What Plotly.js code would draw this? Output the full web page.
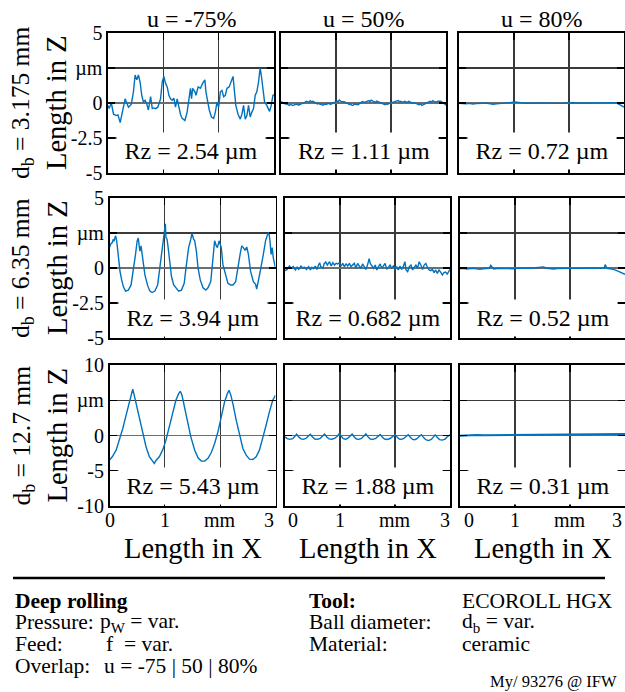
<!DOCTYPE html>
<html><head><meta charset="utf-8">
<script src="https://cdn.plot.ly/plotly-3.0.1.min.js"></script>
<style>html,body{margin:0;padding:0;background:#fff}#chart{width:625px;height:692px}</style>
</head><body><div id="chart"></div>
<script>
// ---------- data ----------
const columnTitles = ['u = -75%', 'u = 50%', 'u = 80%'];
const rowLabels = ['d<sub>b</sub> = 3.175 mm', 'd<sub>b</sub> = 6.35 mm', 'd<sub>b</sub> = 12.7 mm'];
const rzLabels = [
  ['Rz = 2.54 µm', 'Rz = 1.11 µm', 'Rz = 0.72 µm'],
  ['Rz = 3.94 µm', 'Rz = 0.682 µm', 'Rz = 0.52 µm'],
  ['Rz = 5.43 µm', 'Rz = 1.88 µm', 'Rz = 0.31 µm']
];
const xTickVals = [0, 1, 2, 3];
const xTickText = ['0', '1', 'mm', '3'];
const yTickValsSmall = [-5, -2.5, 0, 2.5, 5];
const yTickTextSmall = ['-5', '-2.5', '0', 'µm', '5'];
const yTickValsLarge = [-10, -5, 0, 5, 10];
const yTickTextLarge = ['-10', '-5', '0', 'µm', '10'];

// row 1 (d_b = 3.175 mm)
const x_r1c1 = [0,0.02,0.06,0.10,0.15,0.18,0.22,0.25,0.28,0.31,0.34,0.37,0.42,0.46,0.49,0.52,0.55,0.58,0.61,0.64,0.67,0.70,0.73,0.77,0.80,0.83,0.86,0.90,0.95,0.98,1.01,1.04,1.07,1.10,1.13,1.16,1.19,1.22,1.25,1.28,1.31,1.34,1.39,1.43,1.46,1.49,1.51,1.53,1.57,1.59,1.63,1.67,1.71,1.75,1.77,1.81,1.83,1.87,1.91,1.94,1.97,2.00,2.03,2.06,2.09,2.12,2.15,2.19,2.23,2.26,2.28,2.31,2.35,2.39,2.42,2.45,2.48,2.51,2.54,2.57,2.60,2.63,2.66,2.69,2.72,2.75,2.77,2.80,2.83,2.87,2.92,2.95,2.98,3.00];
const z_r1c1 = [-0.17,-0.4,0,-0.8,-0.9,-0.85,-1.4,-0.8,-0.4,0.3,0,-0.3,-0.1,0.8,2.0,1.65,2.0,1.5,0.55,0.07,0.2,-0.05,-0.5,0.45,-0.4,-0.35,-0.4,-0.3,0.3,1.5,1.9,1.4,1.15,0.55,0.3,0.2,0.35,-0.3,0.3,-0.4,-0.8,-1.1,-1.25,-0.65,0.3,1.05,0.3,1.05,0.8,0.55,1.15,1.05,1.4,1.65,0.8,-0.3,-0.5,-1.0,-1.1,-0.65,0.07,-0.3,0.8,0.9,0.45,0.55,1.05,1.15,1.65,1.9,1.05,-0.17,-0.8,-1.15,-0.8,-0.17,-1.15,-0.9,-0.17,-1.0,-0.65,-0.4,0.55,0.8,1.5,2.5,2.0,1.05,0.07,-0.17,-0.6,-0.17,0.55,0.6];
const x_r1c2 = [0,0.03,0.05,0.08,0.10,0.13,0.15,0.17,0.19,0.22,0.24,0.27,0.29,0.32,0.34,0.37,0.39,0.42,0.44,0.46,0.48,0.51,0.53,0.56,0.58,0.61,0.63,0.66,0.68,0.71,0.73,0.75,0.77,0.80,0.82,0.85,0.87,0.90,0.92,0.95,0.97,1.00,1.02,1.04,1.06,1.09,1.11,1.14,1.16,1.19,1.21,1.24,1.26,1.29,1.31,1.33,1.35,1.38,1.40,1.43,1.45,1.48,1.50,1.53,1.55,1.58,1.60,1.62,1.64,1.67,1.69,1.72,1.74,1.77,1.79,1.82,1.84,1.87,1.89,1.91,1.93,1.96,1.98,2.01,2.03,2.06,2.08,2.11,2.13,2.16,2.18,2.20,2.22,2.25,2.27,2.30,2.32,2.35,2.37,2.40,2.42,2.45,2.47,2.49,2.51,2.54,2.56,2.59,2.61,2.64,2.66,2.69,2.71,2.74,2.76,2.78,2.80,2.83,2.85,2.88,2.90,2.93,2.95,2.98,3.00];
const z_r1c2 = [0.10,0.02,-0.02,-0.08,-0.07,-0.12,-0.17,-0.09,-0.12,-0.18,-0.14,-0.06,-0.07,-0.15,-0.12,-0.04,-0.02,0.04,0.07,0.13,0.10,0.05,0.17,0.09,0.12,0.05,0.02,-0.06,-0.02,-0.09,-0.07,-0.15,-0.14,-0.06,-0.10,-0.03,-0.02,-0.10,-0.07,0.04,0.02,0.09,0.14,0.08,0.21,0.12,0.10,0.04,0.07,-0.02,0,-0.11,-0.07,-0.17,-0.17,-0.08,-0.10,-0.15,-0.12,-0.03,0.02,0.10,0.07,0.03,0.10,0.17,0.17,0.10,0.21,0.14,0.12,0.05,0.14,0.09,0.05,-0.01,-0.05,-0.12,-0.12,-0.06,-0.10,-0.04,-0.02,0.05,0.02,0.10,0.07,0.13,0.17,0.08,0.12,0.05,0.10,0.13,0.07,0.04,0.12,0.08,0.07,-0.01,0.02,-0.04,-0.07,-0.13,-0.12,-0.08,-0.17,-0.11,-0.07,0.03,0.07,0.12,0.12,0.08,0.17,0.12,0.10,0.06,0.12,0.15,0.12,0.07,0.02,-0.08,-0.17];
const x_r1c3 = [0,0.06,0.13,0.19,0.25,0.31,0.37,0.43,0.49,0.56,0.62,0.68,0.74,0.80,0.86,0.93,1.01,1.05,1.10,1.16,1.22,1.28,1.34,1.40,1.46,1.52,1.58,1.64,1.70,1.76,1.82,1.88,1.94,2.00,2.06,2.12,2.18,2.25,2.31,2.37,2.43,2.49,2.55,2.61,2.67,2.73,2.79,2.84,2.88,2.91,2.94,2.97,3.00];
const z_r1c3 = [-0.02,-0.05,-0.05,-0.03,-0.07,-0.04,-0.05,-0.02,0,-0.03,-0.10,-0.06,-0.05,-0.02,0,0.03,0.07,0.04,0.05,0.01,-0.02,-0.04,-0.02,0.01,0,-0.02,0.02,-0.01,-0.02,-0.05,-0.07,-0.03,0,0.02,0.02,0,0,-0.03,-0.05,-0.02,0,0.01,0.02,0.03,0.05,0.04,0.07,0.03,-0.02,-0.08,-0.17,-0.23,-0.29];

// row 2 (d_b = 6.35 mm)
const x_r2c1 = [0,0.02,0.05,0.07,0.08,0.11,0.13,0.16,0.19,0.22,0.25,0.29,0.34,0.39,0.43,0.47,0.50,0.52,0.54,0.55,0.57,0.59,0.64,0.69,0.73,0.77,0.82,0.87,0.91,0.95,0.98,1.00,1.01,1.02,1.04,1.06,1.09,1.12,1.16,1.21,1.25,1.30,1.35,1.39,1.43,1.47,1.49,1.52,1.54,1.57,1.60,1.64,1.69,1.74,1.78,1.83,1.87,1.90,1.93,1.95,1.98,2.00,2.02,2.05,2.10,2.14,2.19,2.23,2.28,2.31,2.36,2.39,2.42,2.45,2.48,2.51,2.55,2.60,2.64,2.66,2.69,2.73,2.78,2.82,2.86,2.88,2.90,2.92,2.94,2.96,3.00];
const z_r2c1 = [1.46,1.7,1.82,2.06,1.9,2.3,1.94,0.73,-0.24,-0.85,-1.33,-1.65,-1.58,-1.21,-0.24,0.97,1.94,2.14,1.46,1.21,1.58,0.97,-0.49,-1.26,-1.65,-1.75,-1.65,-1.21,0,1.21,1.94,2.67,3.15,2.18,2.06,1.46,0.24,-0.61,-1.21,-1.5,-1.65,-1.58,-1.09,0.24,1.46,2.06,2.48,2.06,1.94,1.21,0,-0.85,-1.41,-1.58,-1.41,-0.97,0.73,1.94,1.58,1.46,1.94,1.58,1.46,0.24,-0.61,-1.09,-1.21,-1.21,-0.97,-0.12,0.97,1.58,1.46,1.26,1.5,0.97,-0.24,-0.97,-1.17,-1.5,-0.97,-0.12,0.97,1.94,2.43,2.55,1.94,0.97,1.46,0.73,0];
const x_r2c2 = [0,0.04,0.08,0.11,0.15,0.19,0.22,0.25,0.29,0.33,0.35,0.39,0.43,0.46,0.49,0.52,0.55,0.58,0.61,0.63,0.65,0.69,0.71,0.74,0.77,0.81,0.84,0.87,0.90,0.93,0.96,0.99,1.02,1.05,1.08,1.11,1.14,1.17,1.20,1.23,1.26,1.29,1.32,1.35,1.38,1.41,1.44,1.47,1.50,1.53,1.55,1.58,1.61,1.64,1.67,1.70,1.73,1.76,1.79,1.82,1.85,1.88,1.91,1.94,1.97,2.00,2.03,2.06,2.09,2.12,2.15,2.18,2.20,2.23,2.26,2.29,2.32,2.35,2.38,2.41,2.44,2.47,2.50,2.53,2.56,2.59,2.62,2.65,2.68,2.71,2.74,2.77,2.80,2.83,2.86,2.89,2.92,2.95,3.00];
const z_r2c2 = [-0.19,-0.10,0.14,-0.02,0.10,-0.14,0.05,-0.10,0.14,-0.02,0.05,-0.10,0.10,-0.14,0.05,-0.05,0.14,-0.10,0.21,0.38,0.10,-0.02,0.29,0.43,0.21,0.45,0.14,0.38,0.21,0.33,0.29,0.38,0.14,0.33,0.10,0.29,0.14,0.33,0.10,0.24,0.33,-0.02,0.33,0.14,-0.02,0.29,0.10,-0.10,0.21,0.67,0.33,0.10,-0.02,0.21,-0.14,0.10,0.29,-0.02,0.14,0.33,-0.10,0.10,0.21,-0.02,0.14,-0.10,0.10,-0.14,0.14,-0.10,0.10,0.45,-0.14,-0.26,0.10,0.21,-0.14,0.05,0.21,-0.02,0.45,0.21,-0.10,0.21,0.33,0.05,-0.14,-0.19,-0.10,-0.33,-0.14,-0.38,-0.14,-0.29,-0.50,-0.33,-0.29,-0.43,-0.10];
const x_r2c3 = [0,0.06,0.12,0.18,0.24,0.30,0.36,0.42,0.48,0.53,0.56,0.61,0.67,0.73,0.79,0.85,0.91,0.97,1.03,1.09,1.15,1.21,1.27,1.33,1.39,1.45,1.52,1.58,1.64,1.70,1.76,1.82,1.88,1.94,2.00,2.06,2.12,2.18,2.24,2.30,2.36,2.42,2.48,2.55,2.62,2.64,2.67,2.73,2.79,2.85,2.91,2.97,3.00];
const z_r2c3 = [-0.05,-0.03,-0.07,-0.04,-0.02,-0.06,-0.10,-0.05,-0.05,-0.02,0.19,-0.07,-0.04,-0.05,-0.03,-0.02,-0.04,-0.05,-0.01,-0.02,-0.04,-0.05,-0.02,0,0.01,0.02,0.07,-0.02,-0.05,-0.07,-0.04,-0.05,-0.03,-0.02,-0.03,-0.02,-0.04,-0.05,-0.03,-0.02,-0.03,-0.02,-0.04,-0.02,0,0.24,-0.02,-0.05,-0.10,-0.19,-0.31,-0.43,-0.45];

// row 3 (d_b = 12.7 mm)
const x_r3c1 = [0,0.05,0.12,0.18,0.24,0.30,0.36,0.40,0.42,0.44,0.48,0.54,0.60,0.66,0.72,0.78,0.81,0.84,0.90,0.96,1.02,1.08,1.14,1.20,1.25,1.28,1.31,1.35,1.41,1.47,1.54,1.60,1.66,1.72,1.78,1.84,1.90,1.96,2.02,2.08,2.13,2.16,2.19,2.23,2.29,2.35,2.41,2.47,2.53,2.59,2.65,2.71,2.77,2.83,2.89,2.95,3.00];
const z_r3c1 = [-3.49,-3.02,-2.08,-0.66,0.99,2.88,4.76,6.18,6.56,5.94,4.53,2.41,0.28,-1.6,-3.02,-3.58,-3.96,-3.54,-3.02,-2.08,-0.66,1.23,3.11,5.0,5.94,6.27,5.71,4.29,1.93,-0.19,-2.08,-3.16,-3.63,-3.63,-3.25,-2.41,-1.13,0.52,2.64,4.76,5.94,6.42,5.8,4.53,2.17,0.05,-1.84,-2.78,-3.35,-3.4,-3.02,-2.08,-0.42,1.46,3.35,5.0,5.71];
const x_r3c2 = [0,0.04,0.09,0.14,0.18,0.21,0.25,0.29,0.33,0.38,0.42,0.46,0.50,0.54,0.59,0.64,0.68,0.72,0.76,0.80,0.85,0.90,0.95,0.99,1.03,1.06,1.10,1.14,1.18,1.22,1.26,1.30,1.34,1.39,1.43,1.47,1.51,1.55,1.60,1.65,1.69,1.73,1.77,1.81,1.86,1.91,1.96,2.00,2.04,2.08,2.12,2.16,2.20,2.24,2.28,2.32,2.36,2.40,2.44,2.48,2.52,2.56,2.61,2.66,2.70,2.73,2.77,2.81,2.86,2.91,2.95,2.99,3.00];
const z_r3c2 = [-0.2,-0.45,-0.55,-0.45,-0.12,0.2,-0.2,-0.48,-0.55,-0.42,-0.12,0.18,-0.22,-0.5,-0.54,-0.4,-0.1,0.2,-0.2,-0.48,-0.52,-0.42,-0.1,0.28,-0.18,-0.45,-0.52,-0.4,-0.1,0.2,-0.2,-0.5,-0.55,-0.42,-0.12,0.22,-0.2,-0.5,-0.55,-0.42,-0.12,0.15,-0.25,-0.5,-0.56,-0.43,-0.12,0.1,-0.25,-0.5,-0.55,-0.42,-0.15,0.1,-0.25,-0.55,-0.6,-0.45,-0.15,0.12,-0.3,-0.6,-0.72,-0.55,-0.2,0.1,-0.3,-0.58,-0.65,-0.5,-0.18,0.1,0.08];
const x_r3c3 = [0,0.15,0.30,0.45,0.60,0.75,0.90,1.05,1.20,1.35,1.50,1.65,1.80,1.95,2.10,2.25,2.40,2.55,2.70,2.85,3.00];
const z_r3c3 = [-0.02,0.05,0.07,0.05,0.06,0.08,0.07,0.10,0.08,0.09,0.08,0.10,0.10,0.12,0.14,0.12,0.15,0.14,0.17,0.18,0.20];

// ---------- layout constants (pixels) ----------
const W = 625, H = 692;
const FONT = 'Liberation Serif, Times New Roman, serif';
const BLUE = '#0072BD';
const rowPx = [[33, 173], [198, 338], [365, 506]];
const colPx = [
  [[108, 274], [281, 446], [459, 624]],
  [[109.5, 275.5], [285, 450], [460, 625]],
  [[109.5, 275.5], [285, 450], [460, 625]]
];
const panelData = [
  [[x_r1c1, z_r1c1], [x_r1c2, z_r1c2], [x_r1c3, z_r1c3]],
  [[x_r2c1, z_r2c1], [x_r2c2, z_r2c2], [x_r2c3, z_r2c3]],
  [[x_r3c1, z_r3c1], [x_r3c2, z_r3c2], [x_r3c3, z_r3c3]]
];
const rzBoxY = [-3.46, -3.57, -7.16];
// anchoring of the bottom tick labels per column: [anchor, xshift] for each tick
const xLabelAnchors = [
  [['center', 0], ['center', 0], ['center', 0], ['right', 0]],
  [['left', 1], ['center', 0], ['center', 0], ['right', 2]],
  [['left', 2], ['center', 0], ['center', 0], ['right', -1]]
];

const traces = [];
const layout = {
  width: W, height: H, margin: {l: 0, r: 0, t: 0, b: 0},
  paper_bgcolor: '#fff', plot_bgcolor: '#fff', showlegend: false,
  font: {family: FONT, color: '#000', size: 20},
  annotations: [], shapes: []
};

for (let r = 0; r < 3; r++) {
  for (let c = 0; c < 3; c++) {
    const n = r * 3 + c + 1;
    const xa = 'xaxis' + (n === 1 ? '' : n), ya = 'yaxis' + (n === 1 ? '' : n);
    const xr = 'x' + (n === 1 ? '' : n), yr = 'y' + (n === 1 ? '' : n);
    const [xs, zs] = panelData[r][c];
    traces.push({
      type: 'scatter', mode: 'lines', x: xs, y: zs, xaxis: xr, yaxis: yr,
      line: {color: BLUE, width: (r === 2 && c === 2) ? 2 : 1.4}, hoverinfo: 'skip'
    });
    const big = r === 2;
    layout[xa] = {
      domain: [colPx[r][c][0] / W, colPx[r][c][1] / W], anchor: yr,
      range: [0, 3], tickvals: xTickVals, ticktext: xTickText,
      showticklabels: false,
      ticks: 'inside', ticklen: 7, tickwidth: 1.2, tickcolor: '#000',
      showline: true, linecolor: '#000', linewidth: 1.6, mirror: 'ticks',
      showgrid: true, gridcolor: '#3a3a3a', gridwidth: 1.2, zeroline: false, fixedrange: true
    };
    layout[ya] = {
      domain: [1 - rowPx[r][1] / H, 1 - rowPx[r][0] / H], anchor: xr,
      range: big ? [-10, 10] : [-5, 5],
      tickvals: big ? yTickValsLarge : yTickValsSmall,
      ticktext: big ? yTickTextLarge : yTickTextSmall,
      showticklabels: c === 0, tickfont: {family: FONT, size: 20},
      ticks: 'inside', ticklen: 7, tickwidth: 1.2, tickcolor: '#000',
      showline: true, linecolor: '#000', linewidth: 1.6, mirror: 'ticks',
      showgrid: true, gridcolor: '#3a3a3a', gridwidth: 1.2,
      zeroline: true, zerolinecolor: '#6e6e6e', zerolinewidth: 1.4, fixedrange: true
    };
    layout.annotations.push({
      xref: xr, yref: yr, x: 1.5, y: rzBoxY[r], text: rzLabels[r][c],
      showarrow: false, bgcolor: '#fff', width: 148, height: 36, borderpad: 0,
      font: {family: FONT, size: 24, color: '#000'}
    });
    if (r === 2) {
      xTickVals.forEach((v, i) => {
        const [anc, sh] = xLabelAnchors[c][i];
        layout.annotations.push({
          xref: xr, yref: 'paper', x: v, y: 1 - 520 / H, text: xTickText[i],
          xanchor: anc, xshift: sh, yanchor: 'middle', showarrow: false,
          font: {family: FONT, size: 20, color: '#000'}
        });
      });
    }
  }
}

const colCentersTop = [192, 364, 542];
const colCentersBottom = [192.5, 367.5, 542.5];
for (let c = 0; c < 3; c++) {
  layout.annotations.push({
    xref: 'paper', yref: 'paper', x: colCentersTop[c] / W, y: 1 - 19 / H,
    text: columnTitles[c], showarrow: false, xanchor: 'center', yanchor: 'middle',
    font: {family: FONT, size: 24, color: '#000'}
  });
  layout.annotations.push({
    xref: 'paper', yref: 'paper', x: colCentersBottom[c] / W, y: 1 - 548 / H,
    text: 'Length in X', showarrow: false, xanchor: 'center', yanchor: 'middle',
    font: {family: FONT, size: 28.5, color: '#000'}
  });
}
for (let r = 0; r < 3; r++) {
  const yc = 1 - (rowPx[r][0] + rowPx[r][1]) / 2 / H;
  layout.annotations.push({
    xref: 'paper', yref: 'paper', x: 57 / W, y: yc, text: 'Length in Z',
    textangle: -90, showarrow: false, xanchor: 'center', yanchor: 'middle',
    font: {family: FONT, size: 28.5, color: '#000'}
  });
  layout.annotations.push({
    xref: 'paper', yref: 'paper', x: 22 / W, y: yc, text: rowLabels[r],
    textangle: -90, showarrow: false, xanchor: 'center', yanchor: 'middle',
    font: {family: FONT, size: 25.5, color: '#000'}
  });
}

// footer
layout.shapes.push({type: 'line', xref: 'paper', yref: 'paper',
  x0: 13 / W, x1: 605 / W, y0: 1 - 578 / H, y1: 1 - 578 / H, line: {color: '#000', width: 2.5}});
const footer = [
  [13, 601, '<b>Deep rolling</b>'],
  [13, 622, 'Pressure:'], [98, 622, 'p<sub>W</sub> = var.'],
  [13, 644, 'Feed:'], [104, 644, 'f  = var.'],
  [13, 666, 'Overlap:'], [102, 666, 'u = -75 | 50 | 80%'],
  [307, 601, '<b>Tool:</b>'], [460, 601, 'ECOROLL HGX'],
  [307, 622, 'Ball diameter:'], [460, 622, 'd<sub>b</sub> = var.'],
  [307, 644, 'Material:'], [460, 644, 'ceramic']
];
footer.forEach(([x, y, t]) => layout.annotations.push({
  xref: 'paper', yref: 'paper', x: x / W, y: 1 - y / H, text: t, showarrow: false,
  xanchor: 'left', yanchor: 'middle', font: {family: FONT, size: 21.5, color: '#000'}
}));
layout.annotations.push({
  xref: 'paper', yref: 'paper', x: 619 / W, y: 1 - 681 / H, text: 'My/ 93276 @ IFW',
  showarrow: false, xanchor: 'right', yanchor: 'middle', font: {family: FONT, size: 16.5, color: '#000'}
});

Plotly.newPlot('chart', traces, layout, {staticPlot: true, displayModeBar: false});
</script>
</body></html>
